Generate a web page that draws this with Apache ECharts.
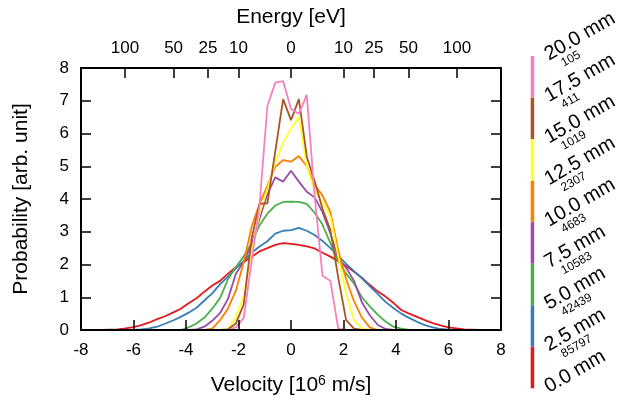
<!DOCTYPE html>
<html>
<head>
<meta charset="utf-8">
<script src="https://cdn.jsdelivr.net/npm/echarts@6/dist/echarts.min.js"></script>
<style>
html,body{margin:0;padding:0;background:#fff;}
#chart{width:623px;height:403px;}
</style>
</head>
<body>
<div id="chart"></div>
<script>
// velocity grid [10^6 m/s]
const velocity = [-7.8,-7.5,-7.2,-6.9,-6.6,-6.3,-6.0,-5.7,-5.4,-5.1,-4.8,-4.5,-4.2,-3.9,-3.6,-3.3,-3.0,-2.7,-2.4,-2.1,-1.8,-1.5,-1.2,-0.9,-0.6,-0.3,0,0.3,0.6,0.9,1.2,1.5,1.8,2.1,2.4,2.7,3.0,3.3,3.6,3.9,4.2,4.5,4.8,5.1,5.4,5.7,6.0,6.3,6.6,6.9,7.2,7.5,7.8];

const p0mm  = [0,0,0,0.01,0.02,0.05,0.09,0.15,0.23,0.33,0.42,0.53,0.65,0.82,0.97,1.17,1.36,1.5,1.72,1.92,2.08,2.24,2.4,2.5,2.6,2.65,2.63,2.6,2.55,2.49,2.36,2.24,2.1,1.95,1.78,1.6,1.38,1.18,1.02,0.83,0.61,0.5,0.4,0.3,0.21,0.14,0.08,0.05,0.02,0.01,0,0,0];
const p2_5mm = [0,0,0,0,0,0,0,0.02,0.05,0.1,0.19,0.29,0.4,0.53,0.68,0.9,1.12,1.4,1.63,1.88,2.11,2.36,2.55,2.71,2.94,3.03,3.05,3.12,3.03,2.9,2.72,2.5,2.26,2.02,1.8,1.58,1.34,1.1,0.86,0.67,0.5,0.37,0.25,0.15,0.08,0.03,0.01,0,0,0,0,0,0];
const p5mm  = [0,0,0,0,0,0,0,0,0,0,0,0,0,0.08,0.2,0.38,0.65,0.98,1.55,1.92,2.25,2.65,3.2,3.55,3.8,3.91,3.92,3.91,3.85,3.58,3.22,2.65,2.1,1.72,1.42,1.0,0.72,0.47,0.26,0.1,0.04,0,0,0,0,0,0,0,0,0,0,0,0];
const p7_5mm = [0,0,0,0,0,0,0,0,0,0,0,0,0,0,0.02,0.1,0.28,0.52,0.95,1.72,2.1,2.6,3.4,4.15,4.66,4.53,4.86,4.53,4.22,4.05,3.6,2.95,2.2,1.9,1.5,0.85,0.45,0.16,0.03,0,0,0,0,0,0,0,0,0,0,0,0,0,0];
const p10mm = [0,0,0,0,0,0,0,0,0,0,0,0,0,0,0,0,0.04,0.3,0.66,1.2,2.08,3.15,3.85,4.4,4.98,5.19,5.14,5.31,5.0,4.45,4.1,3.6,2.43,1.55,0.88,0.38,0.08,0,0,0,0,0,0,0,0,0,0,0,0,0,0,0,0];
const p12_5mm = [0,0,0,0,0,0,0,0,0,0,0,0,0,0,0,0,0,0,0.03,0.4,1.05,2.4,3.55,4.3,5.1,5.72,6.15,6.51,5.0,4.25,3.9,3.46,2.25,1.1,0.3,0.05,0,0,0,0,0,0,0,0,0,0,0,0,0,0,0,0,0];
const p15mm = [0,0,0,0,0,0,0,0,0,0,0,0,0,0,0,0,0,0,0.02,0.2,0.78,2.8,3.85,3.87,5.45,7.05,6.41,7.05,5.3,4.55,3.7,3.05,1.6,0.3,0.04,0,0,0,0,0,0,0,0,0,0,0,0,0,0,0,0,0,0];
const p20mm = [0,0,0,0,0,0,0,0,0,0,0,0,0,0,0,0,0,0,0,0.08,0.37,2.1,3.8,6.84,7.55,7.6,6.75,6.6,7.18,4.1,1.66,1.5,0.04,0,0,0,0,0,0,0,0,0,0,0,0,0,0,0,0,0,0,0,0];

const seriesValues = [p0mm, p2_5mm, p5mm, p7_5mm, p10mm, p12_5mm, p15mm, p20mm];
const seriesColors = ['#e41a1c','#377eb8','#4daf4a','#984ea3','#ff7f00','#ffff33','#a65628','#f781bf'];

// colour bar labels (bottom to top) and counts below labels 2.5 .. 20.0 mm
const legendLabels = ['0.0 mm','2.5 mm','5.0 mm','7.5 mm','10.0 mm','12.5 mm','15.0 mm','17.5 mm','20.0 mm'];
const legendCounts = ['', '85797','42439','10583','4683','2307','1019','411','105'];

// energy (top axis) ticks
const energyTickLabels = ['100','50','25','10','0','10','25','50','100'];
const energySign = [-1,-1,-1,-1,0,1,1,1,1];
const eVperV2 = 2.5; // E[eV] = 2.5 * v^2, v in 10^6 m/s
const energyTickPos = energyTickLabels.map((e, i) => energySign[i] * Math.sqrt(Number(e) / eVperV2));

const FONT = "'Liberation Sans', Arial, Helvetica, sans-serif";
const black = '#000';

const chart = echarts.init(document.getElementById('chart'), null, {renderer: 'canvas'});

const lineSeries = seriesValues.map((arr, k) => ({
  type: 'line',
  xAxisIndex: 0,
  yAxisIndex: 0,
  data: velocity.map((v, i) => [v, arr[i]]),
  symbol: 'none',
  lineStyle: {color: seriesColors[k], width: 1.8},
  itemStyle: {color: seriesColors[k]},
  z: 2 + k * 0.01,
  silent: true
}));

const barSeries = seriesColors.map((c) => ({
  type: 'bar',
  xAxisIndex: 2,
  yAxisIndex: 2,
  stack: 'cb',
  data: [1],
  barWidth: '100%',
  itemStyle: {color: c},
  silent: true
}));

const mainAxisCommon = {
  axisLine: {show: true, onZero: false, lineStyle: {color: black, width: 2}},
  axisTick: {show: true, inside: true, length: 10, lineStyle: {color: black, width: 1.5}},
  splitLine: {show: false},
  z: 10
};

chart.setOption({
  animation: false,
  backgroundColor: '#fff',
  textStyle: {fontFamily: FONT},
  grid: [
    {left: 81, top: 68, width: 420, height: 262, containLabel: false},
    {left: 530.7, top: 56, width: 3.5, height: 332.3},
    {left: 530.7, top: 64, width: 3.5, height: 332.3}
  ],
  xAxis: [
    Object.assign({}, mainAxisCommon, {
      gridIndex: 0, type: 'value', position: 'bottom', min: -8, max: 8, interval: 2,
      axisLabel: {color: black, fontSize: 17, margin: 12, fontFamily: FONT},
      name: 'Velocity [10{sup|6} m/s]', nameLocation: 'middle', nameGap: 44,
      nameTextStyle: {color: black, fontSize: 21, fontFamily: FONT,
        rich: {sup: {fontSize: 14, fontFamily: FONT, color: black, verticalAlign: 'top', padding: [0, 0, 9, 0]}}}
    }),
    Object.assign({}, mainAxisCommon, {
      gridIndex: 0, type: 'value', position: 'top', min: -8, max: 8,
      axisTick: {show: true, inside: true, length: 10, customValues: energyTickPos, lineStyle: {color: black, width: 1.5}},
      axisLabel: {color: black, fontSize: 17, margin: 11, fontFamily: FONT, customValues: energyTickPos,
        formatter: function (v) {
          let best = 0, d = 1e9;
          energyTickPos.forEach((p, i) => { if (Math.abs(p - v) < d) { d = Math.abs(p - v); best = i; } });
          return energyTickLabels[best];
        }},
      name: 'Energy [eV]', nameLocation: 'middle', nameGap: 40,
      nameTextStyle: {color: black, fontSize: 21, fontFamily: FONT}
    }),
    {gridIndex: 1, type: 'category', data: ['bar'], show: false, boundaryGap: true},
    {gridIndex: 2, type: 'category', data: ['bar'], show: false}
  ],
  yAxis: [
    Object.assign({}, mainAxisCommon, {
      gridIndex: 0, type: 'value', position: 'left', min: 0, max: 8, interval: 1,
      axisLabel: {color: black, fontSize: 17, margin: 12, fontFamily: FONT},
      name: 'Probability [arb. unit]', nameLocation: 'middle', nameGap: 49, nameRotate: 90,
      nameTextStyle: {color: black, fontSize: 21, fontFamily: FONT}
    }),
    Object.assign({}, mainAxisCommon, {
      gridIndex: 0, type: 'value', position: 'right', min: 0, max: 8, interval: 1,
      axisLabel: {show: false}
    }),
    {
      gridIndex: 1, type: 'value', position: 'right', min: 0, max: 8, interval: 1,
      axisLine: {show: false}, axisTick: {show: false}, splitLine: {show: false},
      axisLabel: {show: true, rotate: 30, margin: 12, color: black, fontSize: 20, fontFamily: FONT,
        formatter: (v) => legendLabels[Math.round(v)]}
    },
    {
      gridIndex: 2, type: 'value', position: 'right', min: 0, max: 8, interval: 1,
      axisLine: {show: false}, axisTick: {show: false}, splitLine: {show: false},
      axisLabel: {show: true, rotate: 30, margin: 28, color: black, fontSize: 12, fontFamily: FONT,
        formatter: (v) => legendCounts[Math.round(v)]}
    }
  ],
  series: lineSeries.concat(barSeries)
});
</script>
</body>
</html>
